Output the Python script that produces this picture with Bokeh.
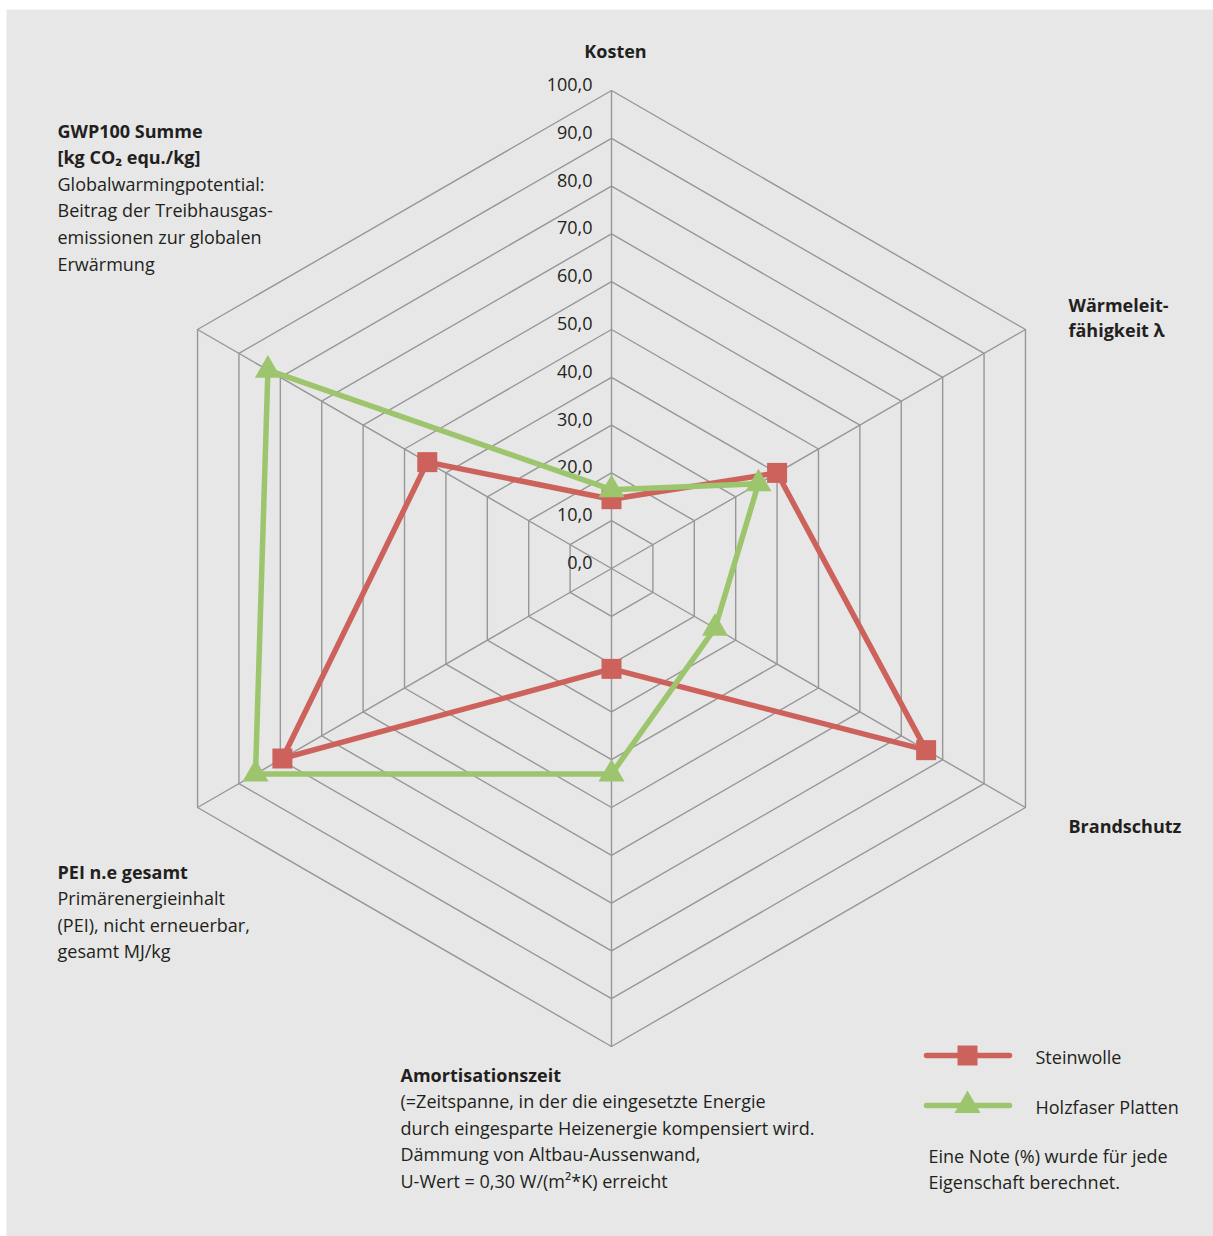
import math

from bokeh.core.properties import value
from bokeh.embed import file_html
from bokeh.models import Range1d
from bokeh.plotting import figure
from bokeh.resources import INLINE

# --- data -------------------------------------------------------------------
categories = ["Kosten", "Wärmeleitfähigkeit", "Brandschutz",
              "Amortisationszeit", "PEI n.e gesamt", "GWP100 Summe"]
steinwolle = [14.5, 40.0, 76.0, 21.0, 79.5, 44.5]
holzfaser = [16.5, 35.5, 25.0, 43.0, 86.0, 83.0]
ring_values = [10, 20, 30, 40, 50, 60, 70, 80, 90, 100]
tick_values = [0, 10, 20, 30, 40, 50, 60, 70, 80, 90, 100]
tick_labels = ["0,0", "10,0", "20,0", "30,0", "40,0", "50,0",
               "60,0", "70,0", "80,0", "90,0", "100,0"]
series_names = ["Steinwolle", "Holzfaser Platten"]

# --- layout -----------------------------------------------------------------
W, H = 1213, 1236
CX, CY = 611, 568          # centre of the radar on the page
UNIT = 4.78                # pixels per score point
LEFT, TOP = 6, 9           # white margin round the grey panel

FONT = "Open Sans"
TXT = "#231f20"
GRID = "#979797"
RED = "#cd625c"
GREEN = "#9cc56d"
FS = "18px"


def X(px):
    return (px - CX) / UNIT


def Y(py):
    return (CY - py) / UNIT


angles = [math.radians(90 - 60 * i) for i in range(len(categories))]


def polar(vals):
    xs = [v * math.cos(a) for v, a in zip(vals, angles)]
    ys = [v * math.sin(a) for v, a in zip(vals, angles)]
    return xs, ys


p = figure(width=W, height=H, output_backend="svg", toolbar_location=None,
           x_range=Range1d(X(LEFT), X(W)), y_range=Range1d(Y(H), Y(TOP)),
           min_border_left=LEFT, min_border_top=TOP,
           min_border_right=0, min_border_bottom=0)
p.axis.visible = False
p.grid.visible = False
p.outline_line_color = None
p.border_fill_color = "white"
p.background_fill_color = "#e6e7e6"

# hexagonal rings and spokes
ring_xs, ring_ys = [], []
for r in ring_values:
    xs, ys = polar([r] * len(categories))
    ring_xs.append(xs + xs[:1])
    ring_ys.append(ys + ys[:1])
p.multi_line(ring_xs, ring_ys, line_color=GRID, line_width=1.4)

rim_x, rim_y = polar([ring_values[-1]] * len(categories))
p.multi_line([[0, x] for x in rim_x], [[0, y] for y in rim_y],
             line_color=GRID, line_width=1.4)

# scale labels along the top spoke
p.text(x=[X(592)] * len(tick_values), y=[v + 6 / UNIT for v in tick_values],
       text=tick_labels, text_align="right", text_baseline="middle",
       text_font=value(FONT), text_font_size=FS, text_color=TXT)

# series
for vals, color, marker, size in ((steinwolle, RED, "square", 20),
                                  (holzfaser, GREEN, "triangle", 26)):
    xs, ys = polar(vals)
    p.line(xs + xs[:1], ys + ys[:1], line_color=color, line_width=5.5,
           line_join="miter")
    p.scatter(xs, ys, marker=marker, size=size, fill_color=color,
              line_color=None)


# category labels
def block(px, py, lines, align="left", step=26.6):
    for i, (txt, bold) in enumerate(lines):
        p.text(x=[X(px)], y=[Y(py + i * step)], text=[txt],
               text_align=align, text_baseline="middle",
               text_font=value(FONT), text_font_size=FS,
               text_font_style="bold" if bold else "normal",
               text_color=TXT)


block(615, 50, [("Kosten", True)], align="center")
block(1068, 304, [("Wärmeleit-", True), ("fähigkeit λ", True)], step=25.5)
block(1068, 825, [("Brandschutz", True)])
block(57, 130, [("GWP100 Summe", True), ("[kg CO₂ equ./kg]", True),
                ("Globalwarmingpotential:", False),
                ("Beitrag der Treibhausgas-", False),
                ("emissionen zur globalen", False),
                ("Erwärmung", False)])
block(57, 871, [("PEI n.e gesamt", True), ("Primärenergieinhalt", False),
                ("(PEI), nicht erneuerbar,", False),
                ("gesamt MJ/kg", False)])
block(400, 1074, [("Amortisationszeit", True),
                  ("(=Zeitspanne, in der die eingesetzte Energie", False),
                  ("durch eingesparte Heizenergie kompensiert wird.", False),
                  ("Dämmung von Altbau-Aussenwand,", False),
                  ("U-Wert = 0,30 W/(m²*K) erreicht", False)])

# legend
for i, (name, color, marker, size) in enumerate(
        ((series_names[0], RED, "square", 20),
         (series_names[1], GREEN, "triangle", 26))):
    ly = 1055 + i * 50
    p.line([X(926), X(1009)], [Y(ly), Y(ly)], line_color=color,
           line_width=5.5, line_cap="round")
    p.scatter([X(967)], [Y(ly)], marker=marker, size=size, fill_color=color,
              line_color=None)
    p.text(x=[X(1035)], y=[Y(ly + 1)], text=[name], text_baseline="middle",
           text_font=value(FONT), text_font_size=FS, text_color=TXT)

block(928, 1155, [("Eine Note (%) wurde für jede", False),
                  ("Eigenschaft berechnet.", False)])

open("out.html", "w").write(file_html(p, INLINE))
